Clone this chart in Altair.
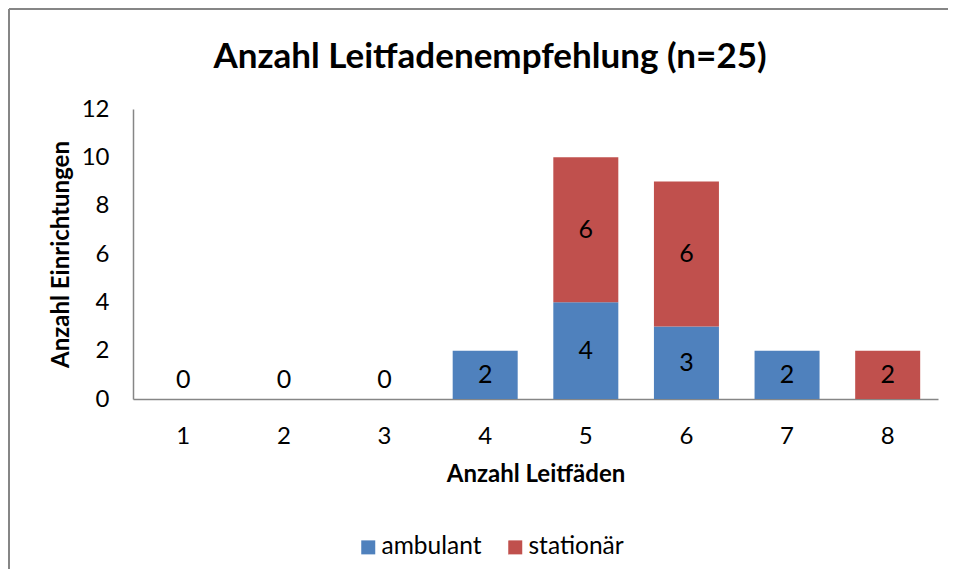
import altair as alt
import pandas as pd

categories = ["1", "2", "3", "4", "5", "6", "7", "8"]
ambulant = [0, 0, 0, 2, 4, 3, 2, 0]
stationaer = [0, 0, 0, 0, 6, 6, 0, 2]
series_names = ["ambulant", "stationär"]
series_colors = ["#4F81BD", "#C0504D"]
y_ticks = [0, 2, 4, 6, 8, 10, 12]
title_text = "Anzahl Leitfadenempfehlung (n=25)"

rows = []
for c, a, s in zip(categories, ambulant, stationaer):
    rows.append({"kat": c, "serie": "ambulant", "wert": a, "ord": 0, "mid": a / 2})
    rows.append({"kat": c, "serie": "stationär", "wert": s, "ord": 1, "mid": a + s / 2})
df = pd.DataFrame(rows)
nonzero = df[df["wert"] > 0]
zeros = pd.DataFrame([{"kat": c, "wert": 0} for c, a, s in zip(categories, ambulant, stationaer) if a + s == 0])

FONT = "Lato"
x_enc = alt.X("kat:N", sort=categories, title="Anzahl Leitfäden",
              scale=alt.Scale(domain=categories, paddingInner=0.354, paddingOuter=0.177),
              axis=alt.Axis(labelAngle=0, ticks=False, labelPadding=25, labelFontSize=24,
                            titleFontSize=24, titleFontWeight="bold", titlePadding=14,
                            domainColor="#868686", domainWidth=1.5, labelColor="#000000",
                            titleColor="#000000"))
y_scale = alt.Scale(domain=[0, 12])

bars = alt.Chart(nonzero).mark_bar().encode(
    x=x_enc,
    y=alt.Y("wert:Q", stack="zero", scale=y_scale, title="Anzahl Einrichtungen",
            axis=alt.Axis(values=y_ticks, ticks=False, grid=False, labelPadding=24,
                          labelFontSize=24, titleFontSize=24, titleFontWeight="bold",
                          titlePadding=8, domainColor="#868686", domainWidth=1.5,
                          labelColor="#000000", titleColor="#000000")),
    color=alt.Color("serie:N", scale=alt.Scale(domain=series_names, range=series_colors),
                    legend=alt.Legend(title=None, orient="none", direction="horizontal",
                                      legendX=223, legendY=426, symbolType="square",
                                      symbolSize=196, symbolStrokeWidth=0, labelFontSize=24.5,
                                      columnPadding=21, labelOffset=1, labelColor="#000000")),
    order=alt.Order("ord:Q"),
)

labels = alt.Chart(nonzero).mark_text(fontSize=25, color="#000000", baseline="middle").encode(
    x=alt.X("kat:N", sort=categories),
    y=alt.Y("mid:Q", scale=y_scale),
    text=alt.Text("wert:Q"),
)

zero_labels = alt.Chart(zeros).mark_text(fontSize=25, color="#000000", baseline="bottom", dy=-6).encode(
    x=alt.X("kat:N", sort=categories),
    y=alt.Y("wert:Q", scale=y_scale),
    text=alt.Text("wert:Q"),
)

one = pd.DataFrame({"t": [title_text]})
frame_left = alt.Chart(one).mark_rule(color="#868686", strokeWidth=2).encode(
    x=alt.value(-124), y=alt.value(-100), y2=alt.value(480))
frame_top = alt.Chart(one).mark_rule(color="#868686", strokeWidth=2).encode(
    x=alt.value(-124), x2=alt.value(830), y=alt.value(-100))
title = alt.Chart(one).mark_text(fontSize=35, fontWeight="bold", color="#000000",
                                 baseline="alphabetic", align="center").encode(
    x=alt.value(357), y=alt.value(-41), text="t:N")

chart = alt.layer(frame_left, frame_top, title, bars, labels, zero_labels).properties(
    width=805, height=290,
    autosize=alt.AutoSizeParams(type="none"),
    padding={"left": 125, "top": 101, "right": 10, "bottom": 170},
).configure(font=FONT).configure_view(stroke=None).configure_axis(labelFont=FONT, titleFont=FONT).configure_legend(labelFont=FONT)

chart.save("out.html", embed_options={"renderer": "svg", "actions": False})
